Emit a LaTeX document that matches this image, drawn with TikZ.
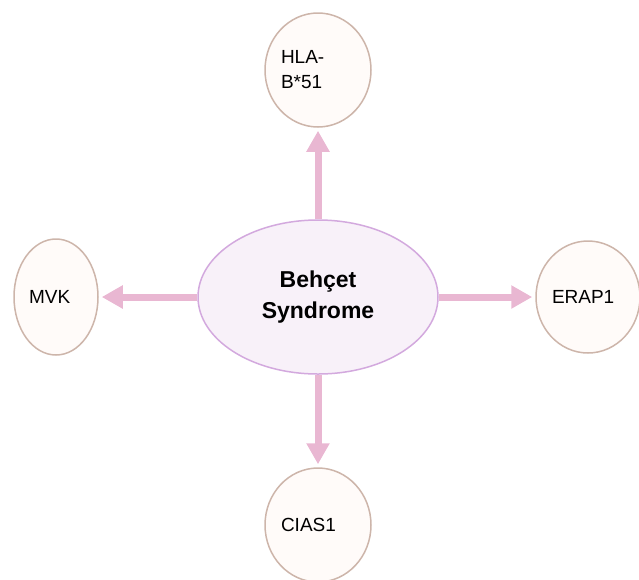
\documentclass[tikz,border=0pt]{standalone}
\usepackage{fontspec}
\setmainfont{Liberation Sans}
\usetikzlibrary{shapes.geometric,arrows.meta}
\definecolor{linkpink}{HTML}{E9B7D2}
\definecolor{corefill}{HTML}{F8F1F9}
\definecolor{coreline}{HTML}{D3A9DE}
\definecolor{genefill}{HTML}{FFFBF9}
\definecolor{geneline}{HTML}{CDB5AA}

\begin{document}
\begin{tikzpicture}[node distance=227pt,
    core/.style={ellipse,draw=coreline,fill=corefill,line width=1.5pt,inner sep=0pt,
      minimum width=240pt,minimum height=154pt,align=center,
      font=\fontsize{23}{31}\selectfont\bfseries},
    gene/.style={ellipse,draw=geneline,fill=genefill,line width=1.5pt,inner sep=0pt,
      minimum width=106pt,minimum height=114pt,text width=74pt,align=left,
      font=\fontsize{19}{25}\selectfont},
    link/.style={-{Triangle[width=22pt,length=21pt]},linkpink,line width=7pt,shorten >=3pt}]
      \useasboundingbox (0,0) rectangle (639pt,-579pt);

      \node[core] (1) at (318pt,-297pt) {Behçet\\Syndrome};
      \node[gene,above of=1] (2) {HLA-\\B*51};
      \node[gene,left of=1,xshift=-35pt,minimum width=84pt,minimum height=116pt,text width=54pt] (3) {MVK};
      \node[gene,right of=1,xshift=43pt,minimum width=104pt,minimum height=112pt,text width=72pt] (4) {ERAP1};
      \node[gene,below of=1,yshift=-1pt] (5) {CIAS1};

      \draw[link] (1) -- (2);
      \draw[link] (1) -- (3);
      \draw[link] (1) -- (4);
      \draw[link] (1) -- (5);
    \end{tikzpicture}
\end{document}
